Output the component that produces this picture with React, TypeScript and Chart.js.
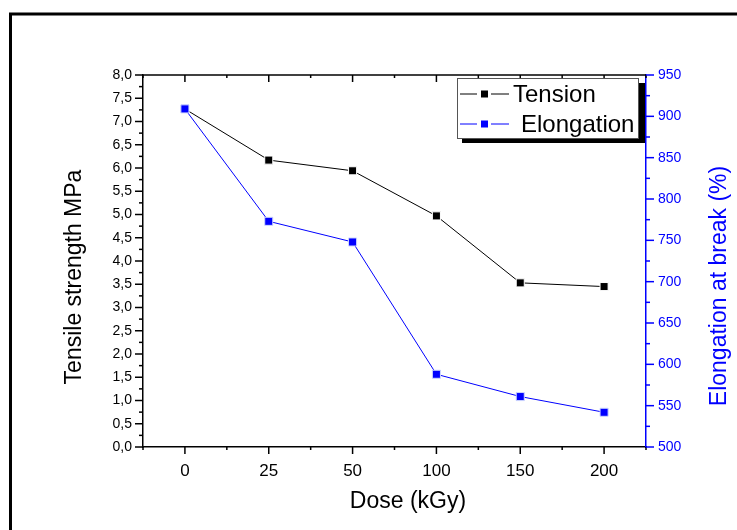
import React, { useEffect, useRef } from "react";
import { Chart, registerables } from "chart.js";

Chart.register(...registerables);

const doseLabels = ["0", "25", "50", "100", "150", "200"];
const tensionValues = [7.27, 6.17, 5.94, 4.97, 3.53, 3.45];
const elongationValues = [909, 773, 748, 588, 561, 542];

const leftTicksMin = 0;
const leftTicksMax = 8;
const leftTickStep = 0.5;
const rightTicksMin = 500;
const rightTicksMax = 950;
const rightTickStep = 50;

const FONT = "'Liberation Sans', Arial, Helvetica, sans-serif";
const BLUE = "#0000ff";

const originPlugin = {
  id: "originDecor",
  afterDraw(chart: any) {
    const { ctx, chartArea: a, scales } = chart;
    const xs = scales.x, ys = scales.y, ys1 = scales.y1;
    ctx.save();
    ctx.lineWidth = 1.5;
    const seg = (x1: number, y1: number, x2: number, y2: number) => {
      ctx.beginPath();
      ctx.moveTo(x1, y1);
      ctx.lineTo(x2, y2);
      ctx.stroke();
    };
    // frame (partial figure border)
    ctx.strokeStyle = "#000";
    ctx.lineWidth = 3;
    seg(9, 14, chart.width, 14);
    seg(10.5, 13, 10.5, chart.height);
    ctx.lineWidth = 1.5;

    // top axis line
    seg(a.left, a.top, a.right, a.top);

    // left ticks
    const lMinor = leftTickStep / 2;
    for (let i = 0; leftTicksMin + i * lMinor <= leftTicksMax + 1e-9; i++) {
      const v = leftTicksMin + i * lMinor;
      const p = ys.getPixelForValue(v);
      const len = i % 2 === 0 ? 8 : 4;
      seg(a.left - len, p, a.left, p);
    }
    // bottom & top ticks
    for (let i = 0; i < doseLabels.length; i++) {
      const p = xs.getPixelForValue(i);
      seg(p, a.bottom, p, a.bottom + 7);
      seg(p, a.top, p, a.top + 7);
    }
    for (let i = 0; i <= doseLabels.length; i++) {
      const p = xs.getPixelForValue(i - 0.5);
      seg(p, a.bottom, p, a.bottom + 3);
      seg(p, a.top, p, a.top + 3);
    }
    // right ticks
    ctx.strokeStyle = BLUE;
    const rMinor = rightTickStep / 2;
    for (let i = 0; rightTicksMin + i * rMinor <= rightTicksMax + 1e-9; i++) {
      const v = rightTicksMin + i * rMinor;
      const p = ys1.getPixelForValue(v);
      const len = i % 2 === 0 ? 8 : 4;
      seg(a.right, p, a.right + len, p);
    }

    // axis titles
    ctx.fillStyle = "#000";
    ctx.font = `23px ${FONT}`;
    ctx.textAlign = "center";
    ctx.textBaseline = "middle";
    ctx.fillText("Dose (kGy)", 408, 502);
    ctx.save();
    ctx.translate(75, 277);
    ctx.rotate(-Math.PI / 2);
    ctx.fillText("Tensile strength MPa", 0, 0);
    ctx.restore();
    ctx.save();
    ctx.fillStyle = BLUE;
    ctx.translate(720, 286);
    ctx.rotate(-Math.PI / 2);
    ctx.fillText("Elongation at break (%)", 0, 0);
    ctx.restore();

    // legend box with shadow
    const bx = a.right - 189, by = a.top + 3, bw = 181, bh = 60;
    ctx.fillStyle = "#000";
    ctx.fillRect(bx + 5, by + 5, bw + 2, bh);
    ctx.fillStyle = "#fff";
    ctx.fillRect(bx, by, bw, bh);
    ctx.strokeStyle = "#555";
    ctx.lineWidth = 1;
    ctx.strokeRect(bx + 0.5, by + 0.5, bw, bh);

    const items = chart.data.datasets.map((d: any) => d);
    const order = [items.find((d: any) => d.label === "Tension"), items.find((d: any) => d.label === "Elongation")];
    order.forEach((d: any, k: number) => {
      const cy = by + 16 + k * 30;
      const lx = bx + 3;
      ctx.strokeStyle = d.borderColor;
      ctx.lineWidth = 1;
      seg(lx, cy, lx + 17, cy);
      seg(lx + 31, cy, lx + 49, cy);
      ctx.fillStyle = d.pointBackgroundColor;
      ctx.fillRect(lx + 21, cy - 3.5, 7, 7);
      ctx.fillStyle = "#000";
      ctx.font = `24px ${FONT}`;
      ctx.textAlign = "left";
      ctx.textBaseline = "middle";
      ctx.fillText(d.label, k === 0 ? bx + 56 : bx + 64, cy + 1);
    });
    ctx.restore();
  },
};

export default function App() {
  const ref = useRef<HTMLCanvasElement | null>(null);
  useEffect(() => {
    if (!ref.current) return;
    const chart = new Chart(ref.current, {
      type: "line",
      data: {
        labels: doseLabels,
        datasets: [
          {
            label: "Tension",
            data: tensionValues,
            yAxisID: "y",
            borderColor: "#000",
            borderWidth: 1,
            pointStyle: "rect",
            pointRadius: 5.7,
            pointBackgroundColor: "#000",
            pointBorderColor: "#fff",
            pointBorderWidth: 1,
            order: 2,
          },
          {
            label: "Elongation",
            data: elongationValues,
            yAxisID: "y1",
            borderColor: BLUE,
            borderWidth: 1,
            pointStyle: "rect",
            pointRadius: 5.7,
            pointBackgroundColor: BLUE,
            pointBorderColor: "#cfd8ff",
            pointBorderWidth: 1,
            order: 1,
          },
        ],
      },
      options: {
        responsive: false,
        animation: false,
        devicePixelRatio: 1,
        layout: { padding: { top: 75, left: 0, right: 0, bottom: 0 } },
        plugins: { legend: { display: false }, tooltip: { enabled: false } },
        scales: {
          x: {
            type: "category",
            offset: true,
            grid: { display: false, drawTicks: false },
            border: { display: true, color: "#000", width: 1.5 },
            ticks: { color: "#000", font: { family: FONT, size: 17 }, padding: 14, maxRotation: 0, autoSkip: false },
            afterFit: (s: any) => { s.height = 83; },
          },
          y: {
            position: "left",
            min: leftTicksMin,
            max: leftTicksMax,
            grid: { display: false, drawTicks: false },
            border: { display: true, color: "#000", width: 1.5 },
            ticks: {
              stepSize: leftTickStep,
              color: "#000",
              font: { family: FONT, size: 14 },
              padding: 11,
              callback: (v: any) => Number(v).toFixed(1).replace(".", ","),
            },
            afterFit: (s: any) => { s.width = 143; },
          },
          y1: {
            position: "right",
            min: rightTicksMin,
            max: rightTicksMax,
            grid: { display: false, drawTicks: false },
            border: { display: true, color: BLUE, width: 1.5 },
            ticks: { stepSize: rightTickStep, color: BLUE, font: { family: FONT, size: 14 }, padding: 12 },
            afterFit: (s: any) => { s.width = 91; },
          },
        },
      },
      plugins: [originPlugin],
    });
    return () => chart.destroy();
  }, []);
  return (
    <div style={{ position: "absolute", left: 0, top: 0, width: 737, height: 530, background: "#fff" }}>
      <canvas ref={ref} width={737} height={530} style={{ display: "block" }} />
    </div>
  );
}
